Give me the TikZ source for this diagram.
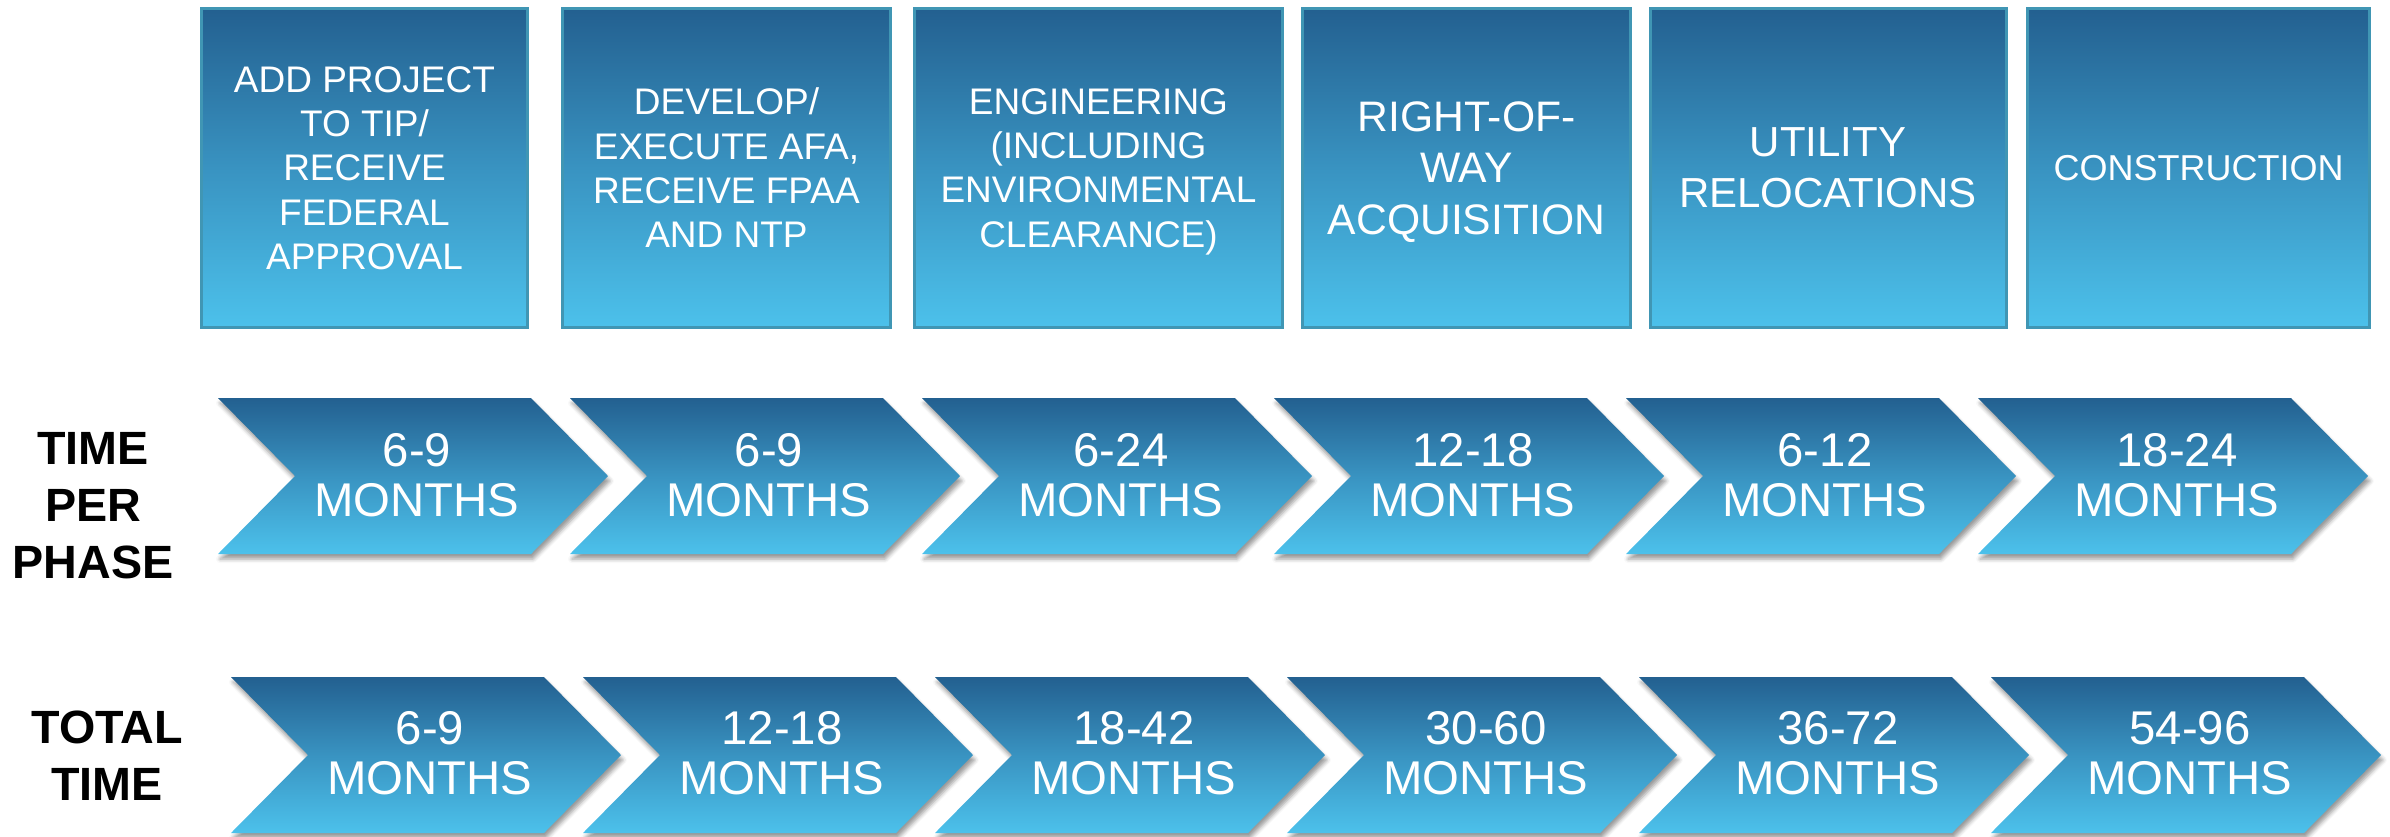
\documentclass[tikz,border=0pt]{standalone}
\usepackage{fontspec}
\setmainfont{Liberation Sans}
\usetikzlibrary{shadows.blur}
\definecolor{topblue}{RGB}{35,96,144}
\definecolor{midblue}{RGB}{57,147,193}
\definecolor{botblue}{RGB}{76,193,235}
\definecolor{boxborder}{RGB}{64,150,180}
\tikzset{
  phasebox/.style={draw=boxborder, line width=0.9pt, top color=topblue, bottom color=botblue, middle color=midblue,
    inner sep=0pt, minimum height=95.7pt, text=white, align=center, font=\fontsize{11.1}{13.3}\selectfont},
  chev/.style={top color=topblue, bottom color=botblue, middle color=midblue,
    blur shadow={shadow xshift=0.6pt, shadow yshift=-1.5pt, shadow blur radius=1.2pt, shadow opacity=40}},
  chevtext/.style={inner sep=0pt, text=white, align=center, font=\fontsize{14.2}{15}\selectfont},
  rowlabel/.style={inner sep=0pt, text=black, align=center, font=\bfseries\fontsize{14}{17.1}\selectfont}
}
\begin{document}
\begin{tikzpicture}[x=0.3pt, y=-0.3pt]
\useasboundingbox (0,0) rectangle (2390,836);
% top phase boxes
\node[phasebox, minimum width=97.8pt]  (b1) at (364.5,168) {ADD PROJECT\\TO TIP/\\RECEIVE\\FEDERAL\\APPROVAL};
\node[phasebox, minimum width=98.4pt]  (b2) at (726.5,168) {DEVELOP/\\EXECUTE AFA,\\RECEIVE FPAA\\AND NTP};
\node[phasebox, minimum width=110.4pt] (b3) at (1098.5,168) {ENGINEERING\\\smash{(}INCLUDING\\ENVIRONMENTAL\\CLEARANCE\smash{)}};
\node[phasebox, minimum width=98.4pt, font=\fontsize{12.8}{15.5}\selectfont]  (b4) at (1466.5,168) {RIGHT-OF-\\WAY\\AC\smash{Q}UISITION};
\node[phasebox, minimum width=106.8pt, font=\fontsize{12.6}{15.2}\selectfont] (b5) at (1828,168) {UTILITY\\RELOCATIONS};
\node[phasebox, minimum width=102.6pt, font=\fontsize{10.8}{13}\selectfont] (b6) at (2198.5,168) {CONSTRUCTION};
% row labels
\node[rowlabel] (l1) at (93,505.5) {TIME\\PER\\PHASE};
\node[rowlabel] (l2) at (107,756) {TOTAL\\TIME};
% time per phase chevrons
\foreach \i/\lab in {0/{6-9},1/{6-9},2/{6-24},3/{12-18},4/{6-12},5/{18-24}}{
  \pgfmathsetmacro\xa{218+352*\i}
  \path[chev] (\xa,398) -- ++(313,0) -- ++(77,78) -- ++(-77,78) -- ++(-313,0) -- ++(77,-78) -- cycle;
  \node[chevtext] (p\i) at (\xa+199,475) {\lab\\MONTHS};
}
% total time chevrons
\foreach \i/\lab in {0/{6-9},1/{12-18},2/{18-42},3/{30-60},4/{36-72},5/{54-96}}{
  \pgfmathsetmacro\xa{231+352*\i}
  \path[chev] (\xa,677) -- ++(313,0) -- ++(77,78) -- ++(-77,78) -- ++(-313,0) -- ++(77,-78) -- cycle;
  \node[chevtext] (q\i) at (\xa+199,753) {\lab\\MONTHS};
}
\end{tikzpicture}
\end{document}
